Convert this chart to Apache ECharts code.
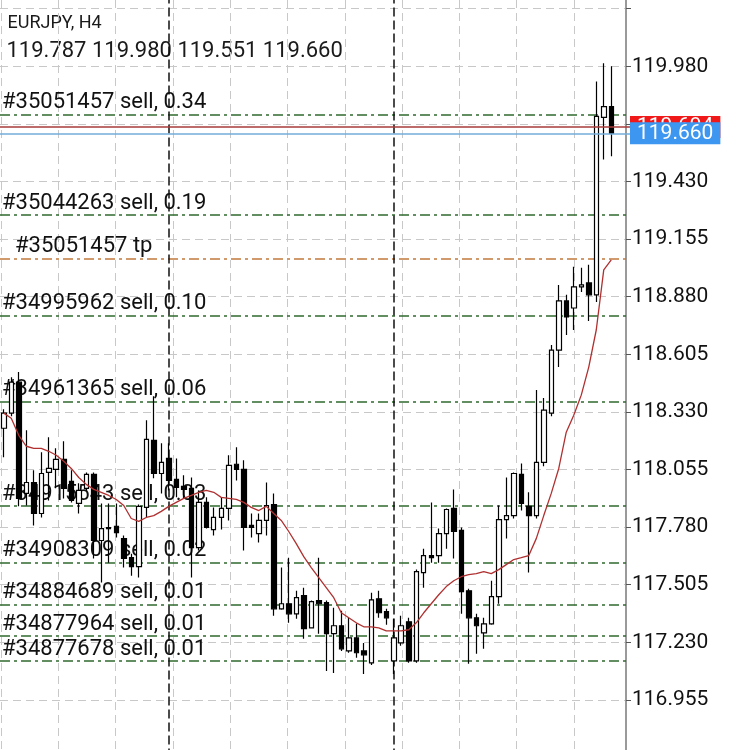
<!DOCTYPE html>
<html>
<head>
<meta charset="utf-8">
<script src="https://cdn.jsdelivr.net/npm/echarts@6.0.0/dist/echarts.min.js"></script>
<style>
  html, body { margin: 0; padding: 0; background: #fff; }
  #chart { width: 736px; height: 750px; }
</style>
</head>
<body>
<div id="chart"></div>
<script>
  // EURJPY H4, 82 bars, oldest first
  var symbolTitle = 'EURJPY, H4'

  var opens = [118.252, 118.324, 118.472, 117.941, 117.993, 117.845, 118.041, 118.056, 118.103, 117.998,
    117.893, 117.965, 118.032, 117.716, 117.778, 117.783, 117.725, 117.634, 117.591, 117.874,
    118.194, 118.036, 118.108, 118.008, 117.974, 117.965, 117.682, 117.898, 117.768, 117.826,
    117.869, 118.080, 118.056, 117.788, 117.749, 117.812, 117.888, 117.390, 117.414, 117.366,
    117.453, 117.299, 117.429, 117.419, 117.271, 117.309, 117.189, 117.251, 117.189, 117.132,
    117.438, 117.376, 117.141, 117.227, 117.328, 117.141, 117.563, 117.644, 117.644, 117.749,
    117.869, 117.764, 117.476, 117.347, 117.275, 117.318, 117.448, 117.816, 117.835, 118.032,
    117.879, 117.835, 118.089, 118.324, 118.625, 118.860, 118.826, 118.927, 118.946, 118.889,
    119.736, 119.787]

  var closes = [118.324, 118.472, 117.917, 117.993, 117.845, 118.036, 118.060, 118.103, 117.965, 117.907,
    117.955, 118.032, 117.716, 117.773, 117.773, 117.754, 117.630, 117.591, 117.879, 118.199,
    118.036, 118.089, 118.003, 117.969, 117.960, 117.682, 117.898, 117.778, 117.826, 117.869,
    118.075, 118.056, 117.778, 117.778, 117.812, 117.883, 117.390, 117.414, 117.366, 117.443,
    117.295, 117.424, 117.414, 117.271, 117.309, 117.199, 117.251, 117.180, 117.170, 117.433,
    117.371, 117.347, 117.251, 117.309, 117.141, 117.567, 117.644, 117.634, 117.749, 117.864,
    117.759, 117.472, 117.347, 117.309, 117.318, 117.448, 117.816, 117.835, 118.036, 117.893,
    117.835, 118.089, 118.338, 118.625, 118.860, 118.783, 118.927, 118.936, 118.889, 119.741,
    119.787, 119.660]

  var highs = [118.343, 118.496, 118.520, 118.242, 118.051, 118.137, 118.209, 118.156, 118.190, 118.051,
    117.989, 118.041, 118.041, 117.893, 117.893, 117.893, 117.740, 117.653, 117.888, 118.290,
    118.405, 118.180, 118.180, 118.108, 118.027, 118.017, 117.955, 117.922, 117.874, 117.922,
    118.123, 118.161, 118.099, 117.845, 117.845, 117.993, 117.941, 117.587, 117.634, 117.476,
    117.491, 117.430, 117.634, 117.430, 117.395, 117.381, 117.347, 117.318, 117.227, 117.467,
    117.476, 117.390, 117.342, 117.357, 117.347, 117.577, 117.677, 117.898, 117.773, 117.869,
    117.960, 117.778, 117.486, 117.366, 117.347, 117.524, 117.883, 118.017, 118.041, 118.084,
    117.946, 118.434, 118.396, 118.649, 118.936, 118.889, 119.023, 119.018, 119.032, 119.908,
    119.995, 119.980]

  var lows = [118.113, 118.309, 117.879, 117.883, 117.788, 117.826, 117.907, 117.965, 117.917, 117.898,
    117.845, 117.955, 117.630, 117.515, 117.610, 117.730, 117.587, 117.548, 117.539, 117.826,
    118.013, 117.941, 117.955, 117.922, 117.917, 117.539, 117.668, 117.773, 117.740, 117.768,
    117.812, 118.003, 117.668, 117.730, 117.706, 117.740, 117.357, 117.385, 117.323, 117.342,
    117.247, 117.297, 117.271, 117.093, 117.084, 117.189, 117.180, 117.156, 117.079, 117.122,
    117.347, 117.314, 117.079, 117.213, 117.132, 117.132, 117.491, 117.610, 117.610, 117.677,
    117.630, 117.366, 117.127, 117.175, 117.199, 117.314, 117.414, 117.725, 117.821, 117.859,
    117.563, 117.821, 118.070, 118.309, 118.544, 118.697, 118.721, 118.903, 118.764, 118.855,
    119.535, 119.551]

  // moving average (red)
  var ma = [118.324, 118.300, 118.218, 118.166, 118.156, 118.156, 118.142, 118.123, 118.094, 118.060,
    118.017, 117.984, 117.960, 117.946, 117.931, 117.912, 117.883, 117.821, 117.807, 117.826,
    117.835, 117.855, 117.879, 117.898, 117.917, 117.931, 117.946, 117.955, 117.946, 117.922,
    117.917, 117.912, 117.898, 117.874, 117.859, 117.879, 117.845, 117.812, 117.759, 117.701,
    117.639, 117.587, 117.539, 117.491, 117.443, 117.371, 117.347, 117.323, 117.304, 117.304,
    117.299, 117.285, 117.285, 117.285, 117.290, 117.323, 117.371, 117.414, 117.457, 117.496,
    117.524, 117.543, 117.553, 117.558, 117.567, 117.558, 117.577, 117.601, 117.625, 117.634,
    117.644, 117.725, 117.835, 117.941, 118.060, 118.233, 118.314, 118.410, 118.544, 118.721,
    119.008, 119.056]

  // open orders
  var orderLabels = ['#35051457 sell, 0.34', '#35044263 sell, 0.19', '#35051457 tp', '#34995962 sell, 0.10',
    '#34961365 sell, 0.06', '#34915543 sell, 0.03', '#34908309 sell, 0.02', '#34884689 sell, 0.01',
    '#34877964 sell, 0.01', '#34877678 sell, 0.01']
  var orderPrices = [119.750, 119.272, 119.056, 118.788, 118.378, 117.883, 117.612, 117.414, 117.261, 117.137]
  var orderKinds = ['sell', 'sell', 'tp', 'sell', 'sell', 'sell', 'sell', 'sell', 'sell', 'sell']

  var askPrice = 119.694
  var bidPrice = 119.660

  // bars where a new week starts
  var separatorBars = [22, 52]

  // price scale labels, one per grid step (0.275) from 116.680 up
  var yTickLabels = ['', '116.955', '117.230', '117.505', '117.780', '118.055', '118.330', '118.605',
    '118.880', '119.155', '119.430', '', '119.980', '', '']

  var categories = []
  for (var i = 0; i < 84; i++) {
    categories.push(String(i))
  }

  var candles = []
  for (var j = 0; j < opens.length; j++) {
    candles.push([opens[j], closes[j], lows[j], highs[j]])
  }

  var last = opens.length - 1
  var headerLine = [opens[last], highs[last], lows[last], closes[last]].map(function (v) {
    return v.toFixed(3)
  }).join(' ')

  var gridDash = { color: '#c8c8c8', width: 1, type: [8, 5] }

  var markData = []
  orderPrices.forEach(function (p, k) {
    var isTp = orderKinds[k] === 'tp'
    markData.push({
      yAxis: p,
      lineStyle: { color: isTp ? '#c27a3e' : '#2f6a2f', width: 1.5, type: [10, 4, 3, 4] },
      label: {
        show: true,
        position: 'insideStartTop',
        distance: [isTp ? 15 : 2, 1],
        formatter: orderLabels[k],
        color: '#111',
        fontSize: 22,
        fontFamily: 'Roboto'
      }
    })
  })
  separatorBars.forEach(function (b) {
    markData.push({
      xAxis: String(b),
      lineStyle: { color: '#111', width: 1.5, type: [9, 4] },
      label: { show: false }
    })
  })

  var priceBox = function (price, bg) {
    return {
      show: true,
      position: 'end',
      distance: 0,
      formatter: price.toFixed(3),
      color: '#fff',
      backgroundColor: bg,
      fontSize: 21,
      fontFamily: 'Roboto',
      padding: [1, 7, 0, 7]
    }
  }

  var myChart = echarts.init(document.getElementById('chart'))
  var option = {
    animation: false,
    backgroundColor: '#fff',
    grid: [
      { left: 0, top: -48.9, width: 630, height: 806.4, containLabel: false, outerBoundsMode: 'none' },
      { left: 1, top: 0, width: 573, height: 750, containLabel: false, outerBoundsMode: 'none' }
    ],
    xAxis: [
      { type: 'category', gridIndex: 0, data: categories, boundaryGap: true, show: false },
      {
        type: 'value', gridIndex: 1, min: 0, max: 10, interval: 1,
        axisLine: { show: false }, axisTick: { show: false }, axisLabel: { show: false },
        splitLine: { show: true, lineStyle: gridDash }
      }
    ],
    yAxis: [
      { type: 'value', gridIndex: 0, min: 116.68, max: 120.53, show: false },
      {
        type: 'value', gridIndex: 0, position: 'right', offset: -4, min: 0, max: 14, interval: 1,
        axisLine: { show: true, lineStyle: { color: '#9a9a9a', width: 2 } },
        axisTick: { show: true, length: 5, lineStyle: { color: '#555', width: 1 } },
        axisLabel: {
          margin: 6,
          color: '#111',
          fontSize: 21,
          fontFamily: 'Roboto',
          formatter: function (v) {
            return yTickLabels[Math.round(v)] || ''
          }
        },
        splitLine: { show: true, lineStyle: gridDash }
      },
      { type: 'value', gridIndex: 1, show: false }
    ],
    graphic: [
      { type: 'text', left: 7.5, top: 14, style: { text: symbolTitle, font: '18px Roboto', fill: '#1a1a1a' } },
      { type: 'text', left: 6.5, top: 40.5, style: { text: headerLine, font: '22px Roboto', fill: '#1a1a1a' } }
    ],
    series: [
      {
        type: 'candlestick',
        xAxisIndex: 0,
        yAxisIndex: 0,
        data: candles,
        barWidth: 5,
        z: 2,
        itemStyle: {
          color: '#fff',
          color0: '#000',
          borderColor: '#000',
          borderColor0: '#000',
          borderWidth: 1.2
        },
        markLine: {
          z: 1,
          silent: true,
          animation: false,
          symbol: ['none', 'none'],
          data: markData
        }
      },
      {
        type: 'line',
        xAxisIndex: 0,
        yAxisIndex: 0,
        data: ma,
        symbol: 'none',
        z: 3,
        lineStyle: { color: '#b03030', width: 1.3 },
        markLine: {
          z: 10,
          silent: true,
          animation: false,
          symbol: ['none', 'none'],
          data: [
            { yAxis: askPrice, lineStyle: { color: '#a83a3a', width: 1.5, type: 'solid' }, label: priceBox(askPrice, '#f01818') },
            { yAxis: bidPrice, lineStyle: { color: '#74acd8', width: 1.5, type: 'solid' }, label: priceBox(bidPrice, '#3d96f0') }
          ]
        }
      }
    ]
  }
  myChart.setOption(option)
</script>
</body>
</html>
